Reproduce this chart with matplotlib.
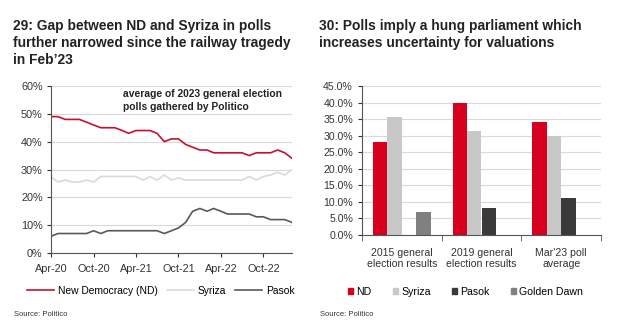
import numpy as np
import pandas as pd
import matplotlib
matplotlib.use("Agg")
from matplotlib import pyplot as plt
from matplotlib.ticker import FuncFormatter, MultipleLocator
from matplotlib.patches import Patch

plt.rcParams['font.family'] = ['Liberation Sans', 'DejaVu Sans']

# line chart data: monthly poll averages
months = pd.date_range('2020-04-01', periods=35, freq='MS')
nd_polls = [49, 49, 48, 48, 48, 47, 46, 45, 45, 45, 44, 43, 44, 44, 44, 43, 40, 41,
            41, 39, 38, 37, 37, 36, 36, 36, 36, 36, 35, 36, 36, 36, 37, 36, 34]
syriza_polls = [27.3, 25.5, 26.2, 25.5, 25.5, 26.2, 25.5, 27.5, 27.5, 27.5, 27.5, 27.5,
                27.5, 26.2, 27.5, 26.2, 28, 26.2, 27, 26.2, 26.2, 26.2, 26.2, 26.2,
                26.2, 26.2, 26.2, 26.2, 27.5, 26.2, 27.5, 28, 29, 28, 30]
pasok_polls = [6, 7, 7, 7, 7, 7, 8, 7, 8, 8, 8, 8, 8, 8, 8, 8, 7, 8,
               9, 11, 15, 16, 15, 16, 15, 14, 14, 14, 14, 13, 13, 12, 12, 12, 11]
line_ticks = ['2020-04-01', '2020-10-01', '2021-04-01', '2021-10-01', '2022-04-01', '2022-10-01']

# bar chart data
groups = ['2015 general\nelection results', '2019 general\nelection results', "Mar'23 poll\naverage"]
bar_nd = [28.1, 39.9, 34.1]
bar_syriza = [35.5, 31.5, 30.0]
bar_pasok = [0, 8.1, 11.2]
bar_golden_dawn = [7.0, 0, 0]

RED = '#d7001f'
LIGHT = '#c8c8c8'
DARK = '#3a3a3a'
MID = '#808080'
GRID = '#d9d9d9'
TXT = '#222222'
W, H = 619, 334

fig = plt.figure(figsize=(W / 100, H / 100), dpi=100)

# titles
fig.text(13 / W, 1 - 19 / H,
         "29: Gap between ND and Syriza in polls\nfurther narrowed since the railway tragedy\nin Feb\u201923",
         ha='left', va='top', fontsize=9.9, fontweight='bold', color=TXT, linespacing=1.25)
fig.text(319 / W, 1 - 19 / H,
         "30: Polls imply a hung parliament which\nincreases uncertainty for valuations",
         ha='left', va='top', fontsize=9.9, fontweight='bold', color=TXT, linespacing=1.25)

# left chart
ax1 = fig.add_axes([51 / W, 1 - 253 / H, (292 - 51) / W, (253 - 86) / H])
ax1.plot(months, nd_polls, color='#c8102e', lw=1.2, label='New Democracy (ND)')
ax1.plot(months, syriza_polls, color='#d9d9d9', lw=1.2, label='Syriza')
ax1.plot(months, pasok_polls, color='#595959', lw=1.2, label='Pasok')
ax1.set_xlim(months[0], months[-1])
ax1.set_ylim(0, 60)
ax1.yaxis.set_major_locator(MultipleLocator(10))
ax1.yaxis.set_major_formatter(FuncFormatter(lambda v, p: f'{v:.0f}%'))
tick_dates = pd.to_datetime(line_ticks)
ax1.set_xticks(tick_dates)
ax1.set_xticklabels([d.strftime('%b-%y') for d in tick_dates])
ax1.grid(axis='y', color=GRID, lw=0.8)
ax1.set_axisbelow(True)
for s in ['top', 'right']:
    ax1.spines[s].set_visible(False)
for s in ['left', 'bottom']:
    ax1.spines[s].set_color('#555555')
ax1.tick_params(labelsize=7.8, colors='#333333', length=3, pad=3)
ax1.tick_params(axis='x', pad=5)
ax1.text(0.30, 0.985, 'average of 2023 general election\npolls gathered by Politico',
         transform=ax1.transAxes, ha='left', va='top', fontsize=7.4,
         fontweight='bold', color=TXT, linespacing=1.4)
fig.legend(handles=ax1.get_lines(), loc='center left', bbox_to_anchor=(27 / W, 1 - 291 / H),
           ncol=3, frameon=False, fontsize=7.4, handlelength=2.6, handletextpad=0.4,
           columnspacing=0.9, borderaxespad=0, borderpad=0)

# right chart
ax2 = fig.add_axes([362 / W, 1 - 235 / H, (601 - 362) / W, (235 - 86) / H])
x = np.arange(len(groups))
w = 0.18
series = [(bar_nd, RED, 'ND'), (bar_syriza, LIGHT, 'Syriza'),
          (bar_pasok, DARK, 'Pasok'), (bar_golden_dawn, MID, 'Golden Dawn')]
handles = []
for i, (vals, col, name) in enumerate(series):
    ax2.bar(x + (i - 1.5) * w, vals, width=w, color=col, zorder=2)
    handles.append(Patch(color=col, label=name))
ax2.set_xlim(-0.5, 2.5)
ax2.set_ylim(0, 45)
ax2.yaxis.set_major_locator(MultipleLocator(5))
ax2.yaxis.set_major_formatter(FuncFormatter(lambda v, p: f'{v:.1f}%'))
ax2.set_xticks(x)
ax2.set_xticklabels(groups)
ax2.set_xticks([-0.5, 0.5, 1.5, 2.5], minor=True)
ax2.tick_params(axis='x', which='major', length=0, pad=9)
ax2.tick_params(axis='x', which='minor', length=4, color='#555555')
ax2.grid(axis='y', color=GRID, lw=0.8, zorder=0)
for s in ['top', 'right']:
    ax2.spines[s].set_visible(False)
for s in ['left', 'bottom']:
    ax2.spines[s].set_color('#555555')
ax2.tick_params(labelsize=7.6, colors='#333333')
ax2.tick_params(axis='y', length=3)
fig.legend(handles=handles, loc='center left', bbox_to_anchor=(348 / W, 1 - 292 / H),
           ncol=4, frameon=False, fontsize=7.6, handlelength=0.5, handleheight=0.5,
           handletextpad=0.3, columnspacing=2.0, borderaxespad=0, borderpad=0)

# sources
fig.text(14 / W, 1 - 315 / H, 'Source: Politico', fontsize=5.5, color='#333333', va='center')
fig.text(320 / W, 1 - 315 / H, 'Source: Politico', fontsize=5.5, color='#333333', va='center')

fig.savefig('out.png', dpi=100)
